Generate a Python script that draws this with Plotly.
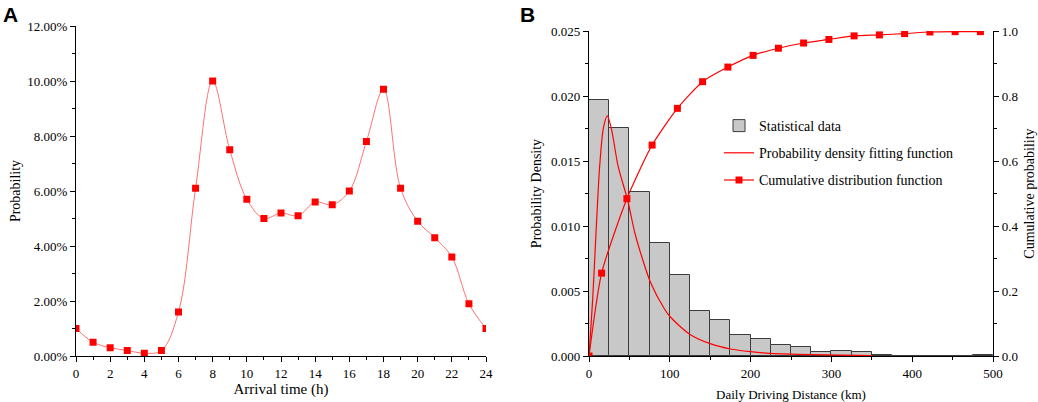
import plotly.graph_objects as go

# ---- panel A: arrival time distribution ----
hours = list(range(25))
arrival_prob = [1.0, 0.5, 0.3, 0.2, 0.1, 0.2, 1.6, 6.1, 10.0, 7.5, 5.7, 5.0, 5.2,
                5.1, 5.6, 5.5, 6.0, 7.8, 9.7, 6.1, 4.9, 4.3, 3.6, 1.9, 1.0]

# ---- panel B: daily driving distance ----
bin_centers = [12.5 + 25 * i for i in range(20)]
bin_density = [0.0197, 0.01755, 0.01265, 0.00873, 0.00622, 0.00348, 0.00274, 0.00164,
               0.0013, 0.00085, 0.00067, 0.0003, 0.00038, 0.00028, 0.0001, 0.0,
               0.0, 0.0, 0.0, 0.00008]

pdf_km = [0, 4.5, 8.7, 13.2, 18, 22.7, 28, 36, 47.8, 56.6, 66, 75.9, 93.6, 100.7,
          125.5, 150, 175, 200, 225, 275, 350]
pdf_val = [0, 0.0043, 0.0095, 0.0146, 0.0176, 0.01847, 0.0174, 0.0146, 0.0120, 0.0095,
           0.0075, 0.0057, 0.0036, 0.0030, 0.00164, 0.00095, 0.00054, 0.00033, 0.0002,
           0.0001, 0.00003]

cdf_km = [0, 15.6, 46.9, 78.1, 109.4, 140.6, 171.9, 203.1, 234.4, 265.6, 296.9,
          328.1, 359.4, 390.6, 421.9, 453.1, 484.4]
cdf_val = [0, 0.255, 0.484, 0.649, 0.762, 0.844, 0.889, 0.925, 0.947, 0.963, 0.974,
           0.985, 0.988, 0.992, 0.997, 0.998, 0.998]

W, H = 1038, 402
serif = "Liberation Serif, Times New Roman, serif"
sans = "Liberation Sans, Arial, sans-serif"
red = "#ff0000"

def px_x(a, b):
    return [a / W, b / W]

def px_y(top, bottom):
    return [1 - bottom / H, 1 - top / H]

fig = go.Figure()

fig.add_trace(go.Scatter(
    x=hours, y=arrival_prob, mode="lines+markers",
    line=dict(color="#ff7070", width=1, shape="spline", smoothing=1),
    marker=dict(symbol="square", size=7, color=red),
    xaxis="x", yaxis="y", showlegend=False))

fig.add_trace(go.Bar(
    x=bin_centers, y=bin_density, width=25,
    marker=dict(color="#c8c8c8", line=dict(color="#3c3c3c", width=1)),
    name="Statistical data", xaxis="x2", yaxis="y2", legendgroup="a"))

fig.add_trace(go.Scatter(
    x=pdf_km, y=pdf_val, mode="lines",
    line=dict(color=red, width=1.2, shape="spline", smoothing=0.8),
    name="Probability density fitting function", xaxis="x2", yaxis="y2", legendgroup="b"))

fig.add_trace(go.Scatter(
    x=cdf_km, y=cdf_val, mode="lines+markers",
    line=dict(color=red, width=1.2, shape="spline", smoothing=0.6),
    marker=dict(symbol="square", size=7, color=red),
    name="Cumulative distribution function", xaxis="x2", yaxis="y3", legendgroup="c"))

tick_font = dict(family=serif, size=13, color="black")
ax_common = dict(showline=True, linecolor="black", linewidth=1.2, showgrid=False,
                 zeroline=False, ticks="outside", ticklen=5, tickwidth=1.2,
                 tickcolor="black", tickfont=tick_font, automargin=False)

ya = px_y(26, 356)
yb = px_y(31, 356)

fig.update_layout(
    width=W, height=H, margin=dict(l=0, r=0, t=0, b=0),
    paper_bgcolor="white", plot_bgcolor="white",
    font=dict(family=serif, color="black"),
    bargap=0,
    xaxis=dict(ax_common, domain=px_x(76, 486), anchor="y", range=[0, 24], dtick=2,
               minor=dict(dtick=1, ticklen=3, ticks="outside", tickcolor="black"),
               title=dict(text="Arrival time (h)", font=dict(size=15), standoff=2)),
    yaxis=dict(ax_common, domain=ya, anchor="x", range=[0, 12], dtick=2,
               tickformat=".2f", ticksuffix="%",
               minor=dict(dtick=1, ticklen=3, ticks="outside", tickcolor="black"),
               title=dict(text="Probability", font=dict(size=14), standoff=3)),
    xaxis3=dict(ax_common, overlaying="x", anchor="y", side="top", range=[0, 24], dtick=2,
                ticks="inside", showticklabels=False,
                minor=dict(dtick=1, ticklen=3, ticks="inside", tickcolor="black")),
    yaxis4=dict(ax_common, overlaying="y", anchor="x", side="right", range=[0, 12], dtick=2,
                ticks="inside", showticklabels=False,
                minor=dict(dtick=1, ticklen=3, ticks="inside", tickcolor="black")),
    xaxis2=dict(ax_common, domain=px_x(589, 993), anchor="y2", range=[0, 500], dtick=100,
                minor=dict(dtick=50, ticklen=3, ticks="outside", tickcolor="black"),
                title=dict(text="Daily Driving Distance (km)", font=dict(size=13), standoff=10)),
    yaxis2=dict(ax_common, domain=yb, anchor="x2", range=[0, 0.025], dtick=0.005,
                tickformat=".3f",
                minor=dict(dtick=0.0025, ticklen=3, ticks="outside", tickcolor="black"),
                title=dict(text="Probability Density", font=dict(size=14), standoff=6)),
    yaxis3=dict(ax_common, overlaying="y2", anchor="x2", side="right", range=[0, 1],
                dtick=0.2, tickformat=".1f",
                minor=dict(dtick=0.1, ticklen=3, ticks="outside", tickcolor="black"),
                title=dict(text="Cumulative probability", font=dict(size=14), standoff=6)),
    xaxis4=dict(ax_common, overlaying="x2", anchor="y2", side="top", range=[0, 500],
                dtick=100, ticks="inside", showticklabels=False,
                minor=dict(dtick=50, ticklen=3, ticks="inside", tickcolor="black")),
    legend=dict(x=719 / W, y=1 - 110 / H, xanchor="left", yanchor="top",
                bgcolor="rgba(0,0,0,0)", font=dict(family=serif, size=14),
                traceorder="grouped", tracegroupgap=6, itemwidth=30),
    annotations=[
        dict(text="<b>A</b>", x=1 / W, y=1 - 1 / H, xref="paper", yref="paper",
             xanchor="left", yanchor="top", showarrow=False,
             font=dict(family=sans, size=21, color="black")),
        dict(text="<b>B</b>", x=518 / W, y=1 - 1 / H, xref="paper", yref="paper",
             xanchor="left", yanchor="top", showarrow=False,
             font=dict(family=sans, size=21, color="black")),
    ],
)

# the page's default body margin would push the fixed-size figure off its 0,0 origin
fig.write_html("out.html", config={"displayModeBar": False},
               post_script="document.body.style.margin='0';")
